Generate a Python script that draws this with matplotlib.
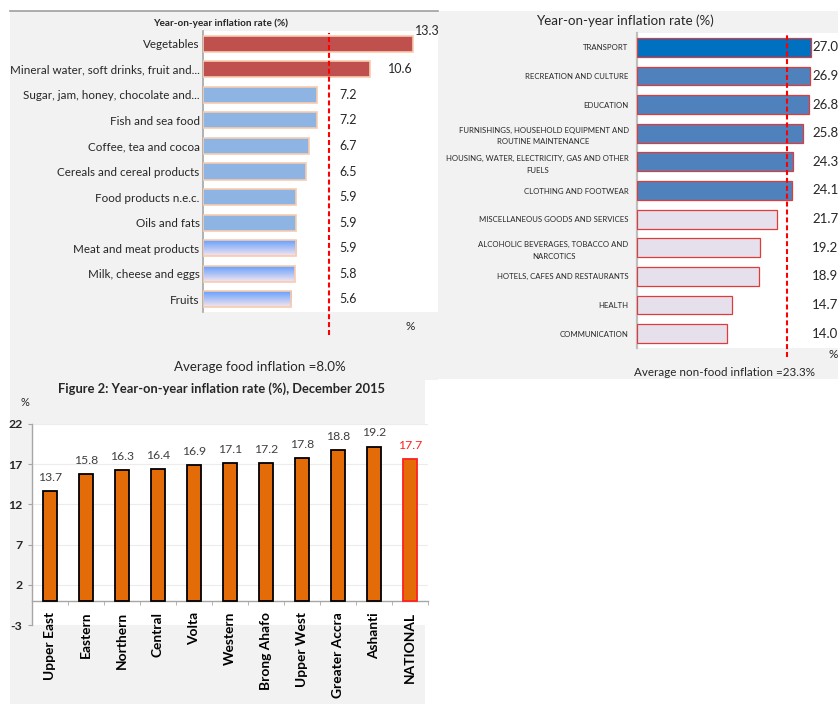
import numpy as np
import matplotlib
matplotlib.use("Agg")
import matplotlib.pyplot as plt
from matplotlib.patches import Rectangle

plt.rcParams['font.family'] = ['Lato', 'DejaVu Sans']

# food groups, top to bottom
food_items = ["Vegetables", "Mineral water, soft drinks, fruit and...",
              "Sugar, jam, honey, chocolate and...", "Fish and sea food",
              "Coffee, tea and cocoa", "Cereals and cereal products",
              "Food products n.e.c.", "Oils and fats", "Meat and meat products",
              "Milk, cheese and eggs", "Fruits"]
food_rates = [13.3, 10.6, 7.2, 7.2, 6.7, 6.5, 5.9, 5.9, 5.9, 5.8, 5.6]
food_avg = 8.0

# non-food divisions, top to bottom
nonfood_items = ["TRANSPORT", "RECREATION AND CULTURE", "EDUCATION",
                 "FURNISHINGS, HOUSEHOLD EQUIPMENT AND\nROUTINE MAINTENANCE",
                 "HOUSING, WATER, ELECTRICITY, GAS AND OTHER\nFUELS",
                 "CLOTHING AND FOOTWEAR", "MISCELLANEOUS GOODS AND SERVICES",
                 "ALCOHOLIC BEVERAGES, TOBACCO AND\nNARCOTICS",
                 "HOTELS, CAFES AND RESTAURANTS", "HEALTH", "COMMUNICATION"]
nonfood_rates = [27.0, 26.9, 26.8, 25.8, 24.3, 24.1, 21.7, 19.2, 18.9, 14.7, 14.0]
nonfood_avg = 23.3

# regional rates, December 2015
regions = ["Upper East", "Eastern", "Northern", "Central", "Volta", "Western",
           "Brong Ahafo", "Upper West", "Greater Accra", "Ashanti", "NATIONAL"]
region_rates = [13.7, 15.8, 16.3, 16.4, 16.9, 17.1, 17.2, 17.8, 18.8, 19.2, 17.7]
region_ticks = [-3, 2, 7, 12, 17, 22]

# bar styles
food_fill = ['#c0504d'] * 2 + ['#8db4e2'] * 6 + ['grad'] * 3
nonfood_fill = ['#0070c0'] + ['#4f81bd'] * 5 + ['#e6e0ec'] * 5
GRAY_BG = '#f2f2f2'
TXT = '#262626'

W, H = 840, 704
fig = plt.figure(figsize=(W / 100, H / 100), dpi=100)


def box(x0, y0, x1, y1):
    return [x0 / W, 1 - y1 / H, (x1 - x0) / W, (y1 - y0) / H]


def panel(x0, y0, x1, y1):
    fig.add_artist(Rectangle((x0 / W, 1 - y1 / H), (x1 - x0) / W, (y1 - y0) / H,
                             transform=fig.transFigure, facecolor=GRAY_BG,
                             edgecolor='none', zorder=-10))


def ftext(x, y, s, **kw):
    kw.setdefault('ha', 'center')
    kw.setdefault('va', 'center')
    kw.setdefault('color', TXT)
    fig.text(x / W, 1 - y / H, s, **kw)


panel(10, 11, 438, 380)
panel(438, 11, 838, 379)
panel(10, 380, 425, 704)
fig.add_artist(plt.Line2D([10 / W, 438 / W], [1 - 11 / H] * 2, transform=fig.transFigure,
                          color='#a0a0a0', lw=1.2, zorder=-5))

# ---- food groups
ax1 = fig.add_axes(box(203, 31, 438, 312))
ax1.set_facecolor('white')
y1 = np.arange(len(food_items))
solid = [c if c != 'grad' else 'none' for c in food_fill]
bars1 = ax1.barh(y1, food_rates, height=0.63, color=solid, edgecolor='#f8cbad', lw=1.2, zorder=3)
grad = np.linspace(0, 1, 64)[:, None]
top_c = np.array([0.36, 0.61, 1.0])
bot_c = np.array([0.97, 0.90, 0.93])
grad_img = (top_c * (1 - grad) + bot_c * grad).reshape(64, 1, 3)
for b, c in zip(bars1, food_fill):
    if c == 'grad':
        x0, yb = b.get_x(), b.get_y()
        im = ax1.imshow(grad_img, extent=(x0, x0 + b.get_width(), yb + b.get_height(), yb),
                        aspect='auto', origin='upper', zorder=2, interpolation='bilinear')
        im.set_clip_path(b)
ax1.set_xlim(0, (438 - 203) / 15.8)
ax1.set_ylim(len(food_items) - 0.5, -0.5)
ax1.set_yticks(y1)
ax1.set_yticklabels(food_items, fontsize=8.4, color=TXT)
ax1.tick_params(axis='y', length=0, pad=2.5)
ax1.set_xticks([])
for s in ['top', 'right', 'bottom']:
    ax1.spines[s].set_visible(False)
ax1.spines['left'].set_color('#a6a6a6')
ax1.spines['left'].set_linewidth(1.2)
ax1.plot([food_avg, food_avg], [-0.082, 0.993], transform=ax1.get_xaxis_transform(),
         clip_on=False, color='#ff0000', lw=1.5, dashes=(2.4, 1.4), zorder=4)
for i, v in enumerate(food_rates):
    if i == 0:
        ax1.text(v + 0.1, i - 0.5, f"{v:.1f}", fontsize=9, color=TXT, ha='left', va='center')
    else:
        ax1.text(max(v + 1.1, food_avg + 0.6), i, f"{v:.1f}", fontsize=9, color=TXT,
                 ha='left', va='center')
ftext(221, 23, "Year-on-year inflation rate (%)", fontsize=7.2, weight='bold')
ftext(410, 327, "%", fontsize=8.5)
ftext(260, 367, "Average food inflation =8.0%", fontsize=9.6)

# ---- non-food divisions
ax2 = fig.add_axes(box(637, 33, 838, 348))
ax2.set_facecolor('white')
y2 = np.arange(len(nonfood_items))
ax2.barh(y2, nonfood_rates, height=0.66, color=nonfood_fill, edgecolor='#e03b3b', lw=0.9, zorder=3)
ax2.set_xlim(0, (838 - 637) / 6.43)
ax2.set_ylim(len(nonfood_items) - 0.5, -0.5)
ax2.set_yticks(y2)
ax2.set_yticklabels(nonfood_items, fontsize=5.6, color=TXT, multialignment='center',
                    linespacing=1.7)
ax2.tick_params(axis='y', length=0, pad=6)
ax2.set_xticks([])
for s in ['top', 'right', 'bottom']:
    ax2.spines[s].set_visible(False)
ax2.spines['left'].set_color('#bfbfbf')
ax2.spines['left'].set_linewidth(1.6)
ax2.plot([nonfood_avg, nonfood_avg], [-0.03, 0.995], transform=ax2.get_xaxis_transform(),
         clip_on=False, color='#ff0000', lw=1.5, dashes=(2.4, 1.4), zorder=4)
for i, v in enumerate(nonfood_rates):
    ax2.text(29.3, i, f"{v:.1f}", fontsize=9.5, color=TXT, ha='center', va='center')
ftext(625, 21, "Year-on-year inflation rate (%)", fontsize=9.6)
ftext(833, 355, "%", fontsize=8.5)
ftext(725, 372, "Average non-food inflation =23.3%", fontsize=8.4)

# ---- regions
ax3 = fig.add_axes(box(32, 424, 428, 625))
ax3.set_facecolor('white')
ax3.spines['bottom'].set_position(('data', 0))
x3 = np.arange(len(regions))
edges = ['black'] * (len(regions) - 1) + ['#ff2020']
ax3.bar(x3, region_rates, width=0.4, color='#e36c09', edgecolor=edges, lw=1.3, zorder=3)
ax3.set_xlim(-0.5, len(regions) - 0.5)
ax3.set_ylim(region_ticks[0], region_ticks[-1])
ax3.set_yticks(region_ticks)
ax3.set_yticklabels([str(t) for t in region_ticks], fontsize=8.8, weight='bold', color=TXT)
ax3.tick_params(axis='y', length=3, color='#a6a6a6', pad=4)
ax3.yaxis.grid(True, color='#ececec', lw=0.8, zorder=0)
ax3.set_xticks(x3)
ax3.set_xticks(np.arange(len(regions) + 1) - 0.5, minor=True)
ax3.set_xticklabels(regions, rotation=90, fontsize=9.9, weight='bold', color='black')
ax3.tick_params(axis='x', which='major', length=0, pad=8)
ax3.tick_params(axis='x', which='minor', length=3, color='#a6a6a6', direction='out')
for s in ['top', 'right']:
    ax3.spines[s].set_visible(False)
for s in ['left', 'bottom']:
    ax3.spines[s].set_color('#a6a6a6')
    ax3.spines[s].set_linewidth(1.0)
for i, v in enumerate(region_rates):
    c = '#ff2020' if regions[i] == 'NATIONAL' else '#404040'
    ax3.text(i, v + 1.0, f"{v:.1f}", fontsize=8.8, color=c, ha='center', va='bottom')
ftext(222, 389, "Figure 2: Year-on-year inflation rate (%), December 2015", fontsize=9.3, weight='bold')
ftext(25, 402, "%", fontsize=8)

fig.savefig("out.png", dpi=100)
